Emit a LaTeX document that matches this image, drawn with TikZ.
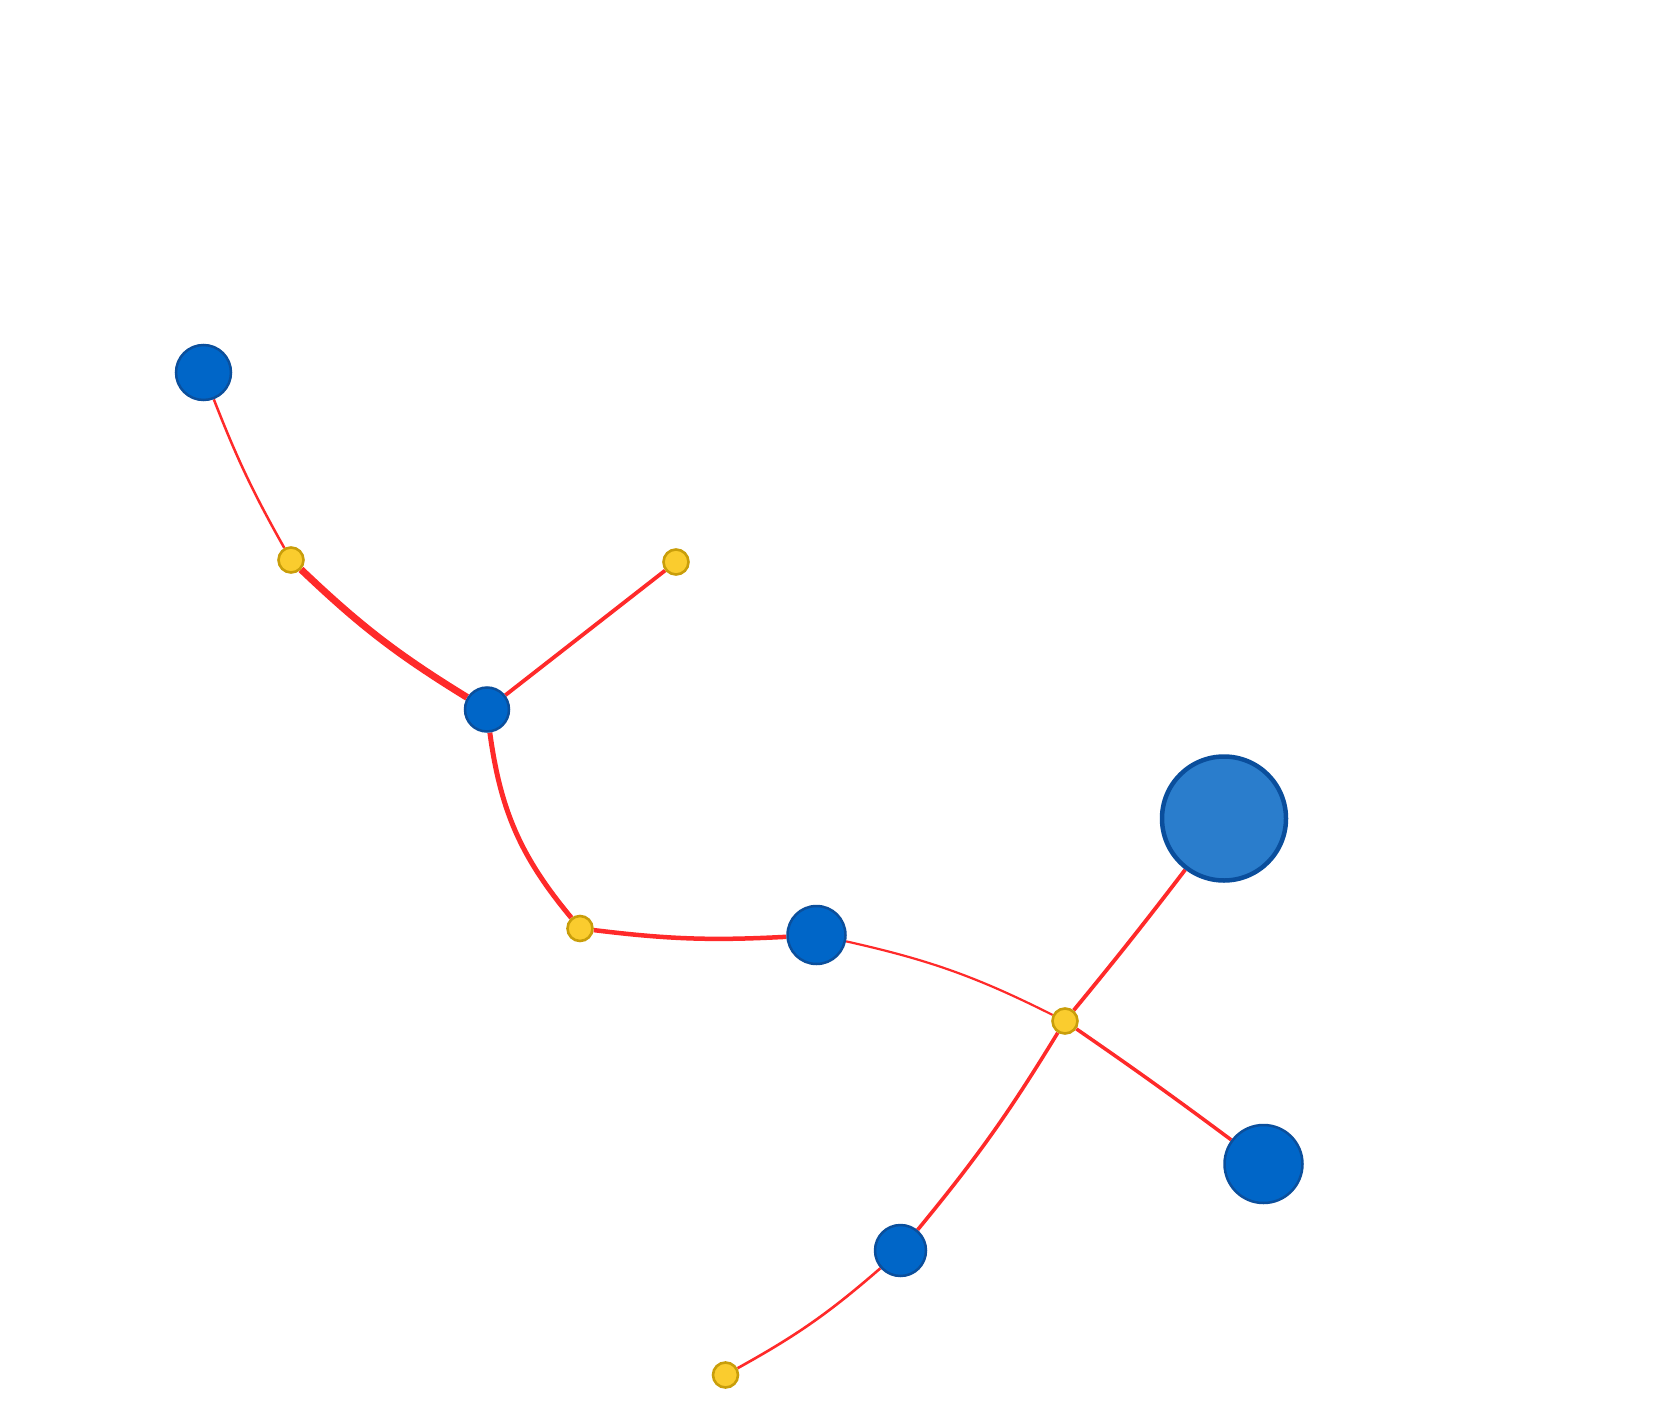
\documentclass[tikz,border=0pt]{standalone}
\usetikzlibrary{backgrounds}
\definecolor{edgered}{HTML}{FF2A2A}
\definecolor{bluefill}{HTML}{0066C8}
\definecolor{bluedraw}{HTML}{0B4F9C}
\definecolor{bigfill}{HTML}{2A7DCC}
\definecolor{bigdraw}{HTML}{0A4E9C}
\definecolor{yelfill}{HTML}{FACC2E}
\definecolor{yeldraw}{HTML}{C99E0A}
\tikzset{
  bnode/.style={circle,fill=bluefill,draw=bluedraw,line width=2.5pt,inner sep=0pt},
  bignode/.style={circle,fill=bigfill,draw=bigdraw,line width=4.5pt,inner sep=0pt,minimum size=124pt},
  ynode/.style={circle,fill=yelfill,draw=yeldraw,line width=2.6pt,inner sep=0pt,minimum size=25pt},
  link/.style={draw=edgered}
}
\begin{document}
\begin{tikzpicture}[x=1pt,y=-1pt]
\useasboundingbox (0,0) rectangle (1673,1415);
\node[bnode,minimum size=55pt] (b1) at (203.5,372.5) {};
\node[ynode] (y1) at (291,560) {};
\node[ynode] (y2) at (676,562) {};
\node[bnode,minimum size=44pt] (b2) at (487,709.5) {};
\node[ynode] (y3) at (580,928.5) {};
\node[bnode,minimum size=58pt] (b3) at (816.5,935) {};
\node[bignode] (b4) at (1224,818.5) {};
\node[ynode] (y4) at (1065,1021) {};
\node[bnode,minimum size=78pt] (b5) at (1263.5,1164) {};
\node[bnode,minimum size=51pt] (b6) at (900.5,1250.5) {};
\node[ynode] (y5) at (725.5,1375) {};
\begin{scope}[on background layer]
\draw[link,line width=2.5pt] (b1) to[bend right=4] (y1);
\draw[link,line width=7pt] (y1) to[bend right=6] (b2);
\draw[link,line width=3.8pt] (b2) -- (y2);
\draw[link,line width=5pt] (b2) to[bend right=16] (y3);
\draw[link,line width=4.5pt] (y3) to[bend right=5] (b3);
\draw[link,line width=2.2pt] (b3) to[bend left=7] (y4);
\draw[link,line width=3.8pt] (y4) to[bend right=1] (b4);
\draw[link,line width=3.5pt] (y4) to[bend left=1] (b5);
\draw[link,line width=3.6pt] (y4) to[bend left=4] (b6);
\draw[link,line width=2.6pt] (b6) to[bend left=6] (y5);
\end{scope}
\end{tikzpicture}
\end{document}
